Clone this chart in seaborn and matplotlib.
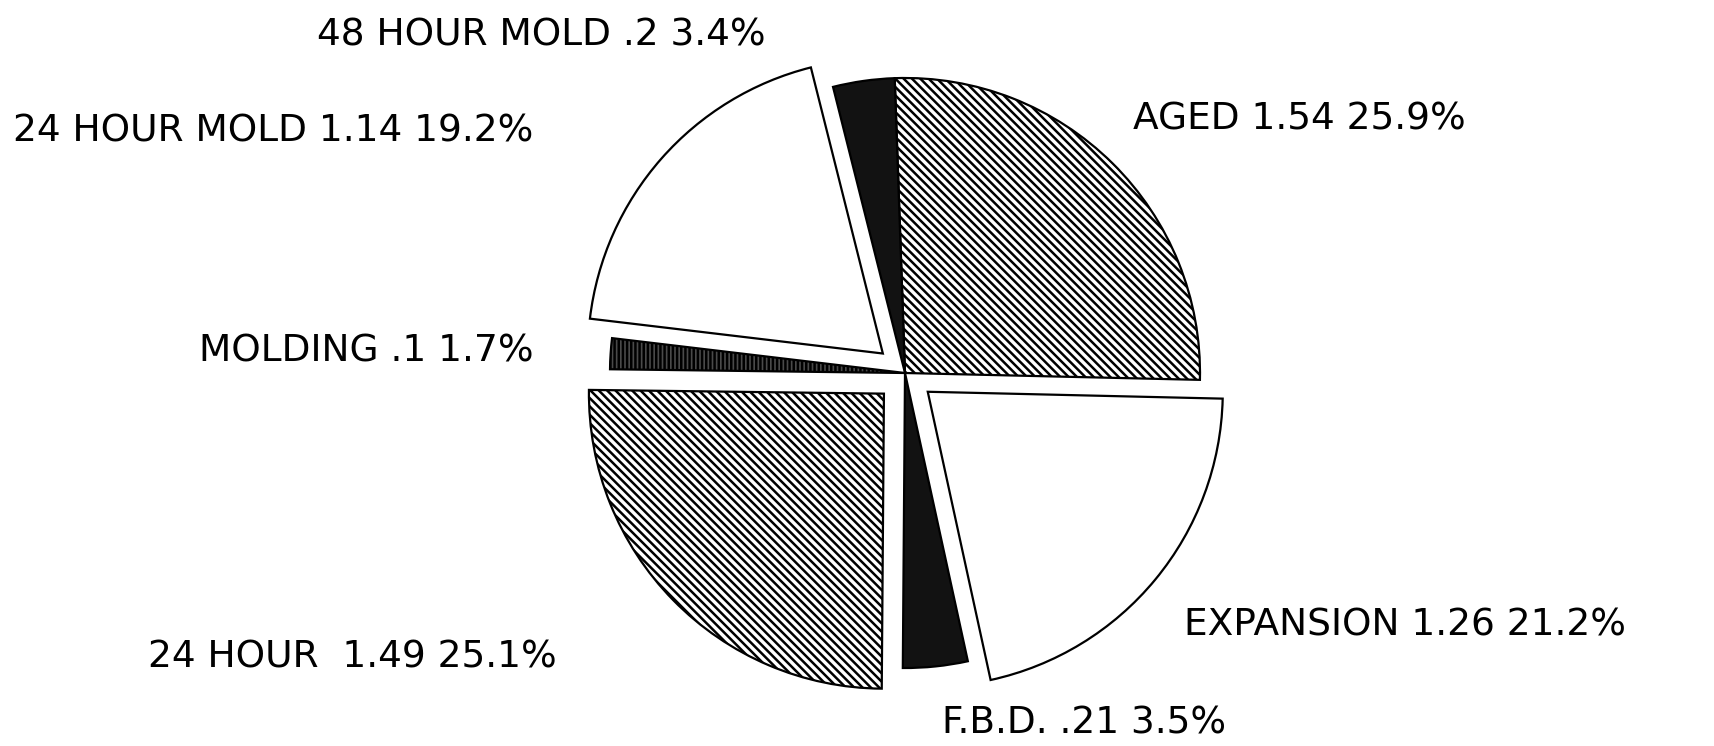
import matplotlib
matplotlib.use('Agg')
import matplotlib.pyplot as plt
import seaborn as sns

# slice data, clockwise from 12 o'clock
names = ['AGED', 'EXPANSION', 'F.B.D.', '24 HOUR ', 'MOLDING', '24 HOUR MOLD', '48 HOUR MOLD']
values = [1.54, 1.26, 0.21, 1.49, 0.10, 1.14, 0.20]
explode = [0, 0.1, 0, 0.1, 0, 0.1, 0]

# label anchors (left edge, vertical centre) in pixels of the 1714x746 canvas
label_px = [(1133, 120), (1184, 625), (942, 723), (148, 658),
            (199, 352), (13, 131), (317, 36)]

sns.set_theme(style="white")
plt.rcParams['font.family'] = ['DejaVu Sans']
plt.rcParams['hatch.linewidth'] = 1.8
plt.rcParams['hatch.color'] = 'black'

W, H = 1714, 746
cx, cy, R = 905, 373, 295

fig = plt.figure(figsize=(W / 100, H / 100), dpi=100)
ax = fig.add_axes([0, 0, 1, 1])

faces = ['white', 'white', '#121212', 'white', '#4a4a4a', 'white', '#121212']
hatches = ['\\' * 4, None, None, '\\' * 4, '|' * 4, None, None]

wedges, _ = ax.pie(values, explode=explode, startangle=92, counterclock=False,
                   radius=1, center=(0, 0), frame=True,
                   wedgeprops=dict(edgecolor='black', linewidth=1.6))
for w, fc, h in zip(wedges, faces, hatches):
    w.set_facecolor(fc)
    if h:
        w.set_hatch(h)
ax.set_xlim(-cx / R, (W - cx) / R)
ax.set_ylim((cy - H) / R, cy / R)
ax.set_aspect('equal')
ax.axis('off')

total = sum(values)


def fmt(v):
    s = f"{v:g}"
    return s[1:] if s.startswith('0') else s


for name, v, (px, py) in zip(names, values, label_px):
    txt = f"{name} {fmt(v)} {100 * v / total:.1f}%"
    fig.text(px / W, 1 - py / H, txt, ha='left', va='center',
             fontsize=27, color='black')

plt.savefig('out.png', dpi=100, facecolor='white')
plt.close()
